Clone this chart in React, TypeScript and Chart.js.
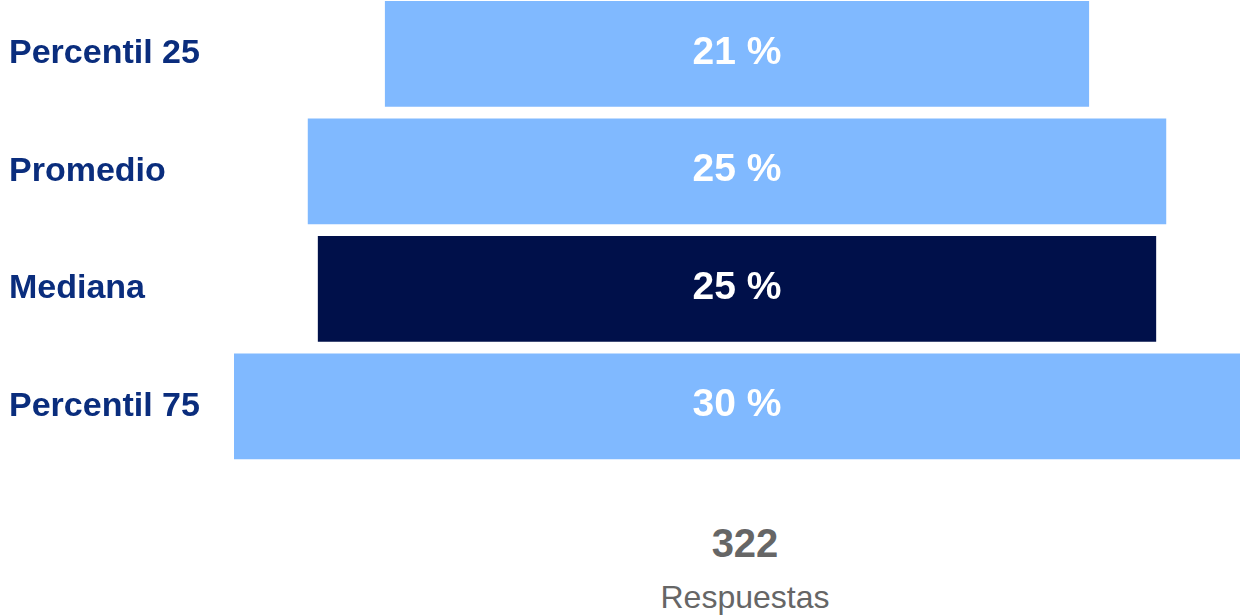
import React, { useEffect, useRef } from "react";
import { Chart, registerables } from "chart.js";

Chart.register(...registerables);

const categories = ["Percentil 25", "Promedio", "Mediana", "Percentil 75"];
const values = [21, 25.6, 25, 30];
const valueLabels = ["21 %", "25 %", "25 %", "30 %"];
const barColors = ["#80b9ff", "#80b9ff", "#00104a", "#80b9ff"];
const responseCount = "322";
const responseLabel = "Respuestas";
const axisMin = -15;
const axisMax = 15;

const FONT = "Arial, 'Liberation Sans', sans-serif";

const barLabelPlugin = {
  id: "barLabels",
  afterDatasetsDraw(chart: any) {
    const ctx = chart.ctx;
    const meta = chart.getDatasetMeta(0);
    ctx.save();
    ctx.fillStyle = "#ffffff";
    ctx.font = `bold 39px ${FONT}`;
    ctx.textAlign = "center";
    ctx.textBaseline = "middle";
    meta.data.forEach((bar: any, i: number) => {
      const p = bar.getCenterPoint();
      ctx.fillText(valueLabels[i], p.x, p.y - 1);
    });
    ctx.restore();
  },
};

export default function App() {
  const canvasRef = useRef<HTMLCanvasElement | null>(null);

  useEffect(() => {
    document.body.style.margin = "0";
    const canvas = canvasRef.current;
    if (!canvas) return;
    const chart = new Chart(canvas, {
      type: "bar",
      data: {
        labels: categories,
        datasets: [
          {
            data: values.map((v) => [-v / 2, v / 2]) as any,
            backgroundColor: barColors,
            borderWidth: 0,
            barPercentage: 0.9,
            categoryPercentage: 1,
          },
        ],
      },
      options: {
        indexAxis: "y",
        animation: false,
        responsive: false,
        maintainAspectRatio: false,
        layout: { padding: { left: 9, right: 0, top: 0, bottom: 0 } },
        plugins: {
          legend: { display: false },
          tooltip: { enabled: false },
          title: { display: false },
        },
        scales: {
          x: {
            display: false,
            min: axisMin,
            max: axisMax,
          },
          y: {
            grid: { display: false },
            border: { display: false },
            ticks: {
              crossAlign: "far",
              color: "#0a2d7d",
              font: { family: FONT, size: 34, weight: "bold" },
              padding: 0,
            },
            afterFit(scale: any) {
              scale.width = 225;
              scale.paddingTop = 0;
              scale.paddingBottom = 0;
            },
          },
        },
      },
      plugins: [barLabelPlugin],
    });
    return () => chart.destroy();
  }, []);

  return (
    <div style={{ position: "relative", width: 1240, height: 616, overflow: "hidden", background: "#ffffff" }}>
      <canvas
        ref={canvasRef}
        width={1240}
        height={470}
        style={{ position: "absolute", left: 0, top: -5, width: 1240, height: 470, display: "block" }}
      />
      <div
        style={{
          position: "absolute",
          left: 545,
          width: 400,
          top: 523,
          textAlign: "center",
          fontFamily: FONT,
          fontWeight: "bold",
          fontSize: 40,
          lineHeight: "40px",
          color: "#666666",
        }}
      >
        {responseCount}
      </div>
      <div
        style={{
          position: "absolute",
          left: 545,
          width: 400,
          top: 581,
          textAlign: "center",
          fontFamily: FONT,
          fontSize: 32,
          lineHeight: "32px",
          color: "#666666",
        }}
      >
        {responseLabel}
      </div>
    </div>
  );
}
